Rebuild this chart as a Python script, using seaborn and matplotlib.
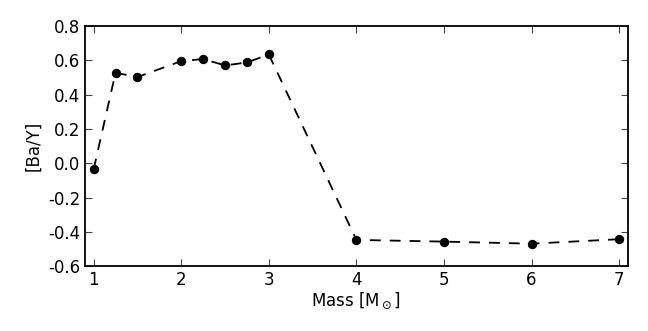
import matplotlib
matplotlib.use("Agg")
import matplotlib.pyplot as plt
import seaborn as sns
import pandas as pd

# masa i [Ba/Y] vrednosti ocitane sa slike
mass = [1.0, 1.25, 1.5, 2.0, 2.25, 2.5, 2.75, 3.0, 4.0, 5.0, 6.0, 7.0]
ba_y = [-0.035, 0.528, 0.503, 0.596, 0.608, 0.571, 0.588, 0.635, -0.447, -0.457, -0.469, -0.443]
xticks = [1, 2, 3, 4, 5, 6, 7]
yticks = [-0.6, -0.4, -0.2, 0.0, 0.2, 0.4, 0.6, 0.8]

df = pd.DataFrame({'Mass': mass, 'BaY': ba_y})

sns.set_style('ticks')
plt.rcParams['font.family'] = ['DejaVu Sans']
plt.rcParams['axes.unicode_minus'] = True
plt.rcParams['text.color'] = 'black'
plt.rcParams['axes.labelcolor'] = 'black'
plt.rcParams['xtick.labelcolor'] = 'black'
plt.rcParams['ytick.labelcolor'] = 'black'

fig = plt.figure(figsize=(6.48, 3.31), dpi=100)
ax = fig.add_axes([0.131, 0.196, 0.838, 0.725])

sns.lineplot(data=df, x='Mass', y='BaY', ax=ax, color='black', linestyle='--',
             linewidth=1.3, marker='o', markersize=6, markeredgecolor='black',
             dashes=False)
ax.lines[0].set_linestyle((0, (6, 5)))

ax.set_xlim(0.9, 7.1)
ax.set_ylim(-0.6, 0.8)
ax.set_xticks(xticks)
ax.set_yticks(yticks)
ax.set_yticklabels(['%.1f' % v for v in yticks])
ax.tick_params(direction='in', top=True, right=True, length=5, width=0.8,
               labelsize=12, color='#444444', labelcolor='black')
for s in ax.spines.values():
    s.set_linewidth(1.3)
    s.set_color('black')

ax.set_xlabel(r'Mass [M$_\odot$]', fontsize=12, labelpad=1)
ax.set_ylabel('[Ba/Y]', fontsize=12)

fig.savefig('out.png', dpi=100)
